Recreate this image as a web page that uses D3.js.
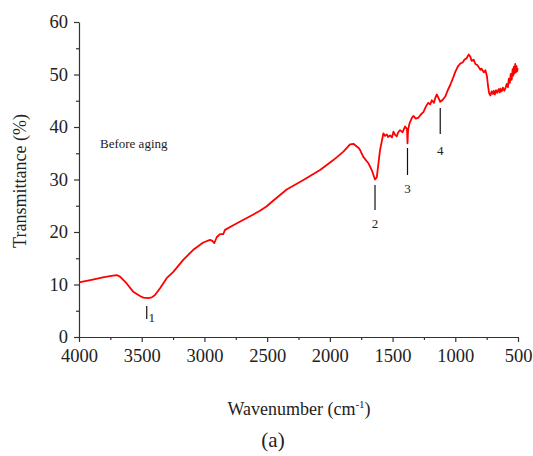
<!DOCTYPE html>
<html><head><meta charset="utf-8">
<script src="https://cdn.jsdelivr.net/npm/d3@7"></script>
<style>body{margin:0;background:#fff}svg{display:block}</style>
</head><body>
<script>
const wavenumbers = [4000,3900,3800,3753,3700,3673,3620,3567,3514,3487,3450,3420,3394,3354,3301,3248,3169,3089,3009,2955,2937,2921,2902,2876,2850,2836,2770,2700,2636,2560,2503,2450,2344,2211,2078,1972,1892,1839,1812,1786,1770,1759,1733,1693,1666,1640,1626,1600,1573,1560,1546,1535,1520,1505,1493,1480,1467,1455,1440,1420,1400,1385,1381,1376,1365,1345,1333,1315,1293,1270,1253,1240,1227,1215,1200,1187,1170,1160,1147,1135,1120,1100,1080,1060,1040,1020,1000,980,960,940,928,910,893,880,870,853,840,825,813,800,790,773,760,747,740,730,720,710,700,693,685,675,665,655,645,640,630,620,610,600,590,580,573,565,558,550,543,537,533,528,522,517,512,507,503];
const transmittance = [10.4,10.9,11.4,11.6,11.8,11.5,10.2,8.6,7.8,7.5,7.4,7.55,8.0,9.3,11.2,12.4,14.7,16.6,18.0,18.5,18.3,17.9,19.0,19.6,19.6,20.4,21.3,22.2,23.0,24.0,24.9,26.0,28.1,29.9,31.8,33.7,35.3,36.7,36.8,36.3,36.0,35.6,34.3,33.1,31.8,30.0,30.4,35.6,38.8,38.3,38.6,38.1,38.4,38.0,39.1,38.5,38.2,39.0,39.4,39.0,40.1,39.6,36.9,39.5,40.7,41.8,42.1,41.6,41.8,42.5,42.9,43.6,44.2,44.6,44.3,45.1,44.6,45.5,46.2,45.6,44.8,45.2,45.8,47.0,48.0,49.2,50.5,51.5,52.1,52.3,52.8,53.1,53.8,53.4,52.6,52.8,52.0,51.8,51.4,50.9,51.1,50.4,50.8,49.6,48.0,46.4,46.0,46.8,46.3,46.9,46.2,47.0,46.5,47.2,46.6,47.3,46.8,47.5,46.9,47.4,48.2,47.6,49.2,48.4,50.1,49.0,51.0,49.8,51.5,50.2,52.0,50.4,51.6,50.6,51.2];
const xTicks = [4000,3500,3000,2500,2000,1500,1000,500];
const yTicks = [0,10,20,30,40,50,60];
const peakLabels = ["1","2","3","4"];
const peakWavenumbers = [3460,1640,1381,1120];

const W=533,H=456;
const svg=d3.select("body").append("svg").attr("width",W).attr("height",H);
const x=d3.scaleLinear().domain([4000,500]).range([79,518]);
const y=d3.scaleLinear().domain([0,60]).range([337,22]);
const font="'Liberation Serif','Times New Roman',serif";
const axisColor="#333";

// x axis
const gx=svg.append("g").attr("transform","translate(0,337)")
  .call(d3.axisBottom(x).tickValues(xTicks).tickSize(5).tickSizeOuter(0).tickPadding(7).tickFormat(d3.format("d")));
gx.append("g").call(d3.axisBottom(x).tickValues(d3.range(3750,500,-500)).tickSize(3).tickFormat("")).select(".domain").remove();
// y axis
const gy=svg.append("g").attr("transform","translate(79,0)")
  .call(d3.axisLeft(y).tickValues(yTicks).tickSize(5).tickSizeOuter(0).tickPadding(6));
gy.append("g").call(d3.axisLeft(y).tickValues([5,15,25,35,45,55]).tickSize(3).tickFormat("")).select(".domain").remove();
svg.selectAll(".domain, .tick line").attr("stroke",axisColor).attr("stroke-width",1.2);
svg.selectAll(".tick text").attr("font-family",font).attr("font-size",18.5).attr("fill","#222");

// curve
const line=d3.line().x((d,i)=>x(wavenumbers[i])).y(d=>y(d));
svg.append("path").datum(transmittance).attr("d",line)
  .attr("fill","none").attr("stroke","#ff0000").attr("stroke-width",1.8).attr("stroke-linejoin","round");

// annotations
const ann=[
  {lx:[306,319], t:[148,322], sub:true},
  {lx:[185,210], t:[376,228]},
  {lx:[148,175], t:[408,193]},
  {lx:[108,134], t:[441,155]}
];
peakLabels.forEach((lab,i)=>{
  const px=x(peakWavenumbers[i]);
  const a=ann[i];
  svg.append("line").attr("x1",px).attr("x2",px).attr("y1",a.lx[0]).attr("y2",a.lx[1]).attr("stroke","#111").attr("stroke-width",1.2);
  svg.append("text").attr("x",a.sub?px+5:px).attr("y",a.t[1]).attr("text-anchor","middle")
    .attr("font-family",font).attr("font-size",13).attr("fill","#222").text(lab);
});

svg.append("text").attr("x",100).attr("y",148).attr("font-family",font).attr("font-size",13).attr("fill","#222").text("Before aging");

svg.append("text").attr("transform","translate(26,181) rotate(-90)").attr("text-anchor","middle")
  .attr("font-family",font).attr("font-size",18).attr("fill","#222").text("Transmittance (%)");

const xt=svg.append("text").attr("x",299).attr("y",415).attr("text-anchor","middle")
  .attr("font-family",font).attr("font-size",18).attr("fill","#222");
xt.append("tspan").text("Wavenumber (cm");
xt.append("tspan").attr("dy",-7).attr("font-size",11).text("-1");
xt.append("tspan").attr("dy",7).text(")");

svg.append("text").attr("x",273).attr("y",447).attr("text-anchor","middle")
  .attr("font-family",font).attr("font-size",21).attr("fill","#222").text("(a)");
</script>
</body></html>
